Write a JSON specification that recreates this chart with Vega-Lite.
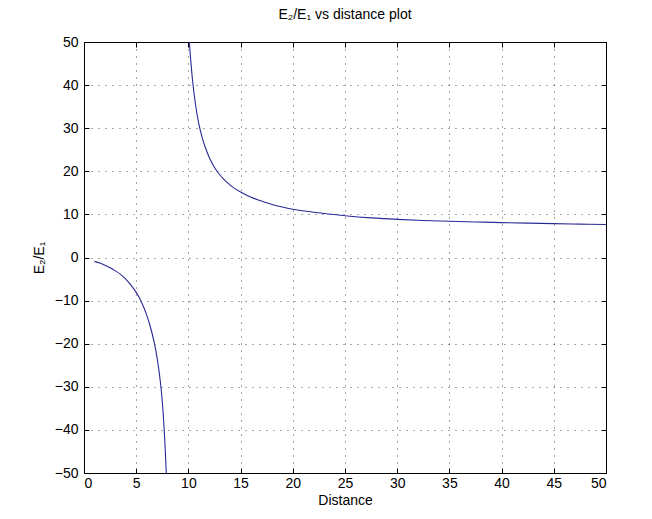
{
  "$schema": "https://vega.github.io/schema/vega-lite/v6.json",
  "width": 522,
  "height": 431,
  "autosize": {"type": "none"},
  "padding": {"left": 84, "top": 42, "right": 46, "bottom": 46},
  "background": "white",
  "title": {"text": "E₂/E₁ vs distance plot", "fontSize": 14, "fontWeight": "normal", "font": "Liberation Sans", "color": "#000", "offset": 13, "anchor": "middle"},
  "config": {
    "view": {"stroke": "#000", "strokeWidth": 1},
    "axis": {
      "domainColor": "#000", "domainWidth": 1,
      "tickColor": "#000", "tickSize": -5, "tickWidth": 1,
      "labelFont": "Liberation Sans", "labelFontSize": 14, "labelColor": "#000",
      "titleFont": "Liberation Sans", "titleFontSize": 14, "titleColor": "#000", "titleFontWeight": "normal",
      "gridColor": "#000", "gridOpacity": 0.7, "gridDash": [1, 6], "gridWidth": 1
    }
  },
  "data": {"values": [
    {"d": 1, "r": -0.9, "b": "a"},
    {"d": 1.5, "r": -1.3, "b": "a"},
    {"d": 2, "r": -1.8, "b": "a"},
    {"d": 2.5, "r": -2.4, "b": "a"},
    {"d": 3, "r": -3.1, "b": "a"},
    {"d": 3.5, "r": -3.9, "b": "a"},
    {"d": 4, "r": -5.0, "b": "a"},
    {"d": 4.5, "r": -6.4, "b": "a"},
    {"d": 5, "r": -8.1, "b": "a"},
    {"d": 5.25, "r": -9.1, "b": "a"},
    {"d": 5.5, "r": -10.3, "b": "a"},
    {"d": 5.75, "r": -11.7, "b": "a"},
    {"d": 6, "r": -13.3, "b": "a"},
    {"d": 6.25, "r": -15.2, "b": "a"},
    {"d": 6.5, "r": -17.4, "b": "a"},
    {"d": 6.75, "r": -20.0, "b": "a"},
    {"d": 7, "r": -23.3, "b": "a"},
    {"d": 7.2, "r": -26.6, "b": "a"},
    {"d": 7.4, "r": -30.8, "b": "a"},
    {"d": 7.55, "r": -35, "b": "a"},
    {"d": 7.67, "r": -39.5, "b": "a"},
    {"d": 7.78, "r": -44.5, "b": "a"},
    {"d": 7.88, "r": -50, "b": "a"},
    {"d": 10.09, "r": 50, "b": "b"},
    {"d": 10.2, "r": 46.5, "b": "b"},
    {"d": 10.4, "r": 41, "b": "b"},
    {"d": 10.7, "r": 35.2, "b": "b"},
    {"d": 11, "r": 31.0, "b": "b"},
    {"d": 11.3, "r": 28.0, "b": "b"},
    {"d": 11.6, "r": 25.7, "b": "b"},
    {"d": 12, "r": 23.2, "b": "b"},
    {"d": 12.5, "r": 20.9, "b": "b"},
    {"d": 13, "r": 19.2, "b": "b"},
    {"d": 13.5, "r": 17.9, "b": "b"},
    {"d": 14, "r": 16.8, "b": "b"},
    {"d": 15, "r": 15.2, "b": "b"},
    {"d": 16, "r": 14.0, "b": "b"},
    {"d": 17, "r": 13.1, "b": "b"},
    {"d": 18, "r": 12.3, "b": "b"},
    {"d": 19, "r": 11.7, "b": "b"},
    {"d": 20, "r": 11.2, "b": "b"},
    {"d": 22, "r": 10.5, "b": "b"},
    {"d": 25, "r": 9.7, "b": "b"},
    {"d": 27.5, "r": 9.2, "b": "b"},
    {"d": 30, "r": 8.85, "b": "b"},
    {"d": 32.5, "r": 8.6, "b": "b"},
    {"d": 35, "r": 8.4, "b": "b"},
    {"d": 37.5, "r": 8.25, "b": "b"},
    {"d": 40, "r": 8.1, "b": "b"},
    {"d": 42.5, "r": 7.97, "b": "b"},
    {"d": 45, "r": 7.85, "b": "b"},
    {"d": 47.5, "r": 7.75, "b": "b"},
    {"d": 50, "r": 7.65, "b": "b"}
  ]},
  "layer": [
    {
      "mark": {"type": "line", "color": "#2a2a96", "strokeWidth": 1.1, "clip": true, "interpolate": "monotone"},
      "encoding": {
        "x": {"field": "d", "type": "quantitative", "scale": {"domain": [0, 50], "nice": false, "zero": false},
              "axis": {"title": "Distance", "values": [0,5,10,15,20,25,30,35,40,45,50], "grid": true, "labelPadding": 8, "titlePadding": 3, "format": "d"}},
        "y": {"field": "r", "type": "quantitative", "scale": {"domain": [-50, 50], "nice": false, "zero": false},
              "axis": {"title": "E₂/E₁", "values": [-50,-40,-30,-20,-10,0,10,20,30,40,50], "grid": true, "labelPadding": 11, "titlePadding": 8, "format": "d"}},
        "detail": {"field": "b", "type": "nominal"}
      }
    },
    {
      "mark": {"type": "point", "opacity": 0},
      "encoding": {
        "x": {"field": "d", "type": "quantitative", "scale": {"domain": [0, 50], "nice": false, "zero": false},
              "axis": {"orient": "top", "title": null, "labels": false, "grid": false, "values": [0,5,10,15,20,25,30,35,40,45,50]}},
        "y": {"field": "r", "type": "quantitative", "scale": {"domain": [-50, 50], "nice": false, "zero": false},
              "axis": {"orient": "right", "title": null, "labels": false, "grid": false, "values": [-50,-40,-30,-20,-10,0,10,20,30,40,50]}}
      }
    }
  ],
  "resolve": {"axis": {"x": "independent", "y": "independent"}}
}
